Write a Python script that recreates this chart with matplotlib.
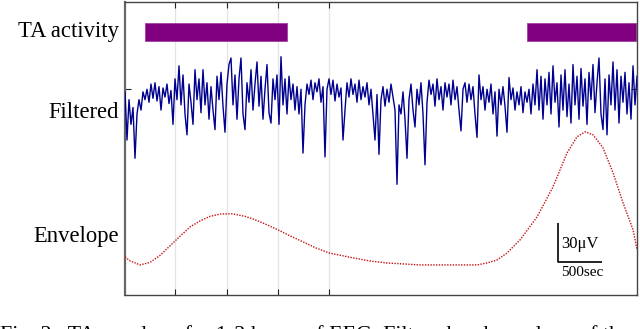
import numpy as np
import matplotlib
matplotlib.use("Agg")
import matplotlib.pyplot as plt

# ---------------- data ----------------
# time axis in seconds, y axis in microvolts
row_labels = ["TA activity", "Filtered", "Envelope"]

# TA activity intervals (start, end) in seconds
ta_starts = [227, 4555]
ta_ends = [1835, 5790]

# filtered EEG (uV, around its own zero), sampled every dt seconds
filt_dt = 5800 / 256
filtered = [
    2, -35, -4, -23, -10, -49, -15, -4, -12, 2, -4,
    4, -6, 8, -3, 9, -5, 6, -12, 5, -2, 8, -7, 3,
    -23, 12, -4, 22, -8, 15, -15, -31, 8, -6, -23, 19, -4, 12, -14, 19,
    -8, 9, -19, 6, -12, -27, 14, -4, 17, -9, -29, 8, 23, 28, -8, 15,
    -19, 12, 28, -15, -27, 9, -6, 19, -12, 8, 25, -9, 14, -19, 4, 23,
    -14, -22, 12, -4, 15, -23, 29, -8, 12, -15, 14, -4, 8, -12, 6, -15,
    4, -45, -8, 8, 0, 11, -4, 9, 2, 12,
    -6, 6, -48, 4, 12, 0, 11, -5, 8, -2,
    5, -35, -12, 9, -2, 12, 0, 8, -6, 11,
    -4, 6, -2, 9, -8, 4, -15, -35, 0, -46,
    -4, 6, -9, 4, -6, 8, -2, -12, -69, -8,
    -15, 2, -19, -49, -4, 8, -12, -25, 4, -8,
    9, -15, -54, -6, 11, 0, 8, -9, 12, -4,
    6, -12, 9, -2, 8, -8, 11, -4, 6, -12,
    -28, 4, 9, -6, 8, -4,
    6, -15, -33, 15, -4, 6, -12, 4, -6, 8,
    -15, 2, -32, 4, -8, 6, -9, -29, 13, -4,
    5, -12, 2, -8, 6, -14, 2, -6, 4, -15,
    8, -8, 19, -12, 14, -19, 12, -8, 17, -15,
    22, -6, 9, -25, 15, -12, 19, -17, 8, -22,
    23, -8, 14, -19, 20, -9, 12, -23, 17, -4,
    23, -14, 9, 28, -15, -27, 12, -31, 15, -8,
    25, -12, 19, -22, 14, -6, 17, -15, 9, -19,
    22, -8, 14,
]

# envelope (uV)
env_t = [0, 57, 170, 283, 397, 567, 737, 850, 963, 1076, 1212, 1360, 1450,
         1586, 1722, 1870, 2017, 2164, 2311, 2583, 2776, 2968, 3342, 3716,
         3988, 4101, 4215, 4328, 4475, 4668, 4849, 5008, 5121, 5212, 5302,
         5415, 5529, 5642, 5756, 5801]
env_v = [29.2, 26.2, 23.1, 25.0, 30.4, 41.5, 52.3, 56.9, 60.4, 62.1, 62.4,
         60.4, 58.4, 54.6, 50.4, 45.4, 40.8, 36.1, 32.3, 28.5, 26.1, 24.6,
         23.1, 23.1, 23.1, 24.6, 26.9, 32.3, 42.3, 60.0, 83.1, 109.2, 121.5,
         125.3, 123.0, 113.0, 93.8, 70.7, 50.0, 34.6]

grid_ticks = [566, 1156, 1733, 2311]
scale_uv = 30
scale_sec = 500
caption = "Fig. 3.  TA envelope for 1-2 hours of EEG. Filtered and envelope of the"

# ---------------- layout / style ----------------
filt_offset = 154
ta_y = 202
ta_h = 14
row_y = [ta_y, filt_offset - 14, 45]
serif = ["Liberation Serif", "DejaVu Serif"]

fig = plt.figure(figsize=(6.4, 3.29), dpi=100)
ax = fig.add_axes([125 / 640, (329 - 295) / 329, 512 / 640, 293 / 329])
ax.set_xlim(0, 5800)
ax.set_ylim(0, 225)

for gx in grid_ticks:
    ax.axvline(gx, color="#e3e3e3", lw=0.9, zorder=0)

# TA bars
for s, e in zip(ta_starts, ta_ends):
    ax.barh(ta_y, e - s, left=s, height=ta_h, color="#800080",
            edgecolor="#a040a0", linewidth=0.6, zorder=2)

# filtered
ft = np.arange(len(filtered)) * filt_dt
ax.plot(ft, np.array(filtered) + filt_offset, color="#00008f", lw=1.0, zorder=3)

# envelope
ax.plot(env_t, env_v, color="#c81010", lw=1.0, linestyle=(0, (1, 1)), zorder=3)

# scale bar
sx, sy = 4906, 25.4
ax.plot([sx, sx, sx + scale_sec], [sy + scale_uv, sy, sy], color="black", lw=1.2,
        solid_capstyle="butt", zorder=4)
ax.text(sx + 40, sy + scale_uv / 2 - 1, f"{scale_uv}\u03bcV", family=serif,
        fontsize=12, va="center", ha="left")
ax.text(sx + scale_sec / 2 + 20, sy - 8, f"{scale_sec}sec", family=serif,
        fontsize=11, va="center", ha="center")

# ticks
ax.set_xticks(grid_ticks)
ax.set_yticks([158])
ax.tick_params(direction="in", length=4, width=0.8, top=True, right=True,
               labelbottom=False, labelleft=False, color="#222222")
for sp in ax.spines.values():
    sp.set_color("#444444")
    sp.set_linewidth(1.0)
ax.spines["left"].set_linewidth(1.6)
ax.spines["left"].set_color("#666666")

# row labels
for lab, yy in zip(row_labels, row_y):
    ax.text(-0.012, yy, lab, transform=ax.get_yaxis_transform(), ha="right",
            va="center", family=serif, fontsize=16.3)

fig.text(0.0, -0.033, caption, family=serif, fontsize=15.8, ha="left",
         va="baseline")

fig.savefig("out.png", dpi=100)
